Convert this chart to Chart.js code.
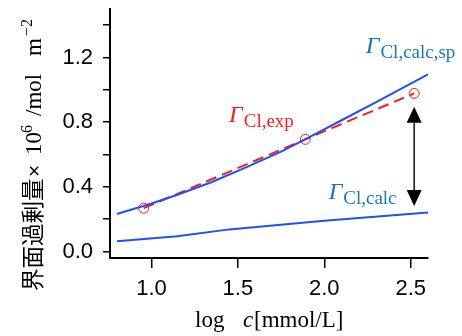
<!DOCTYPE html>
<html>
<head>
<meta charset="utf-8">
<script src="https://cdn.jsdelivr.net/npm/chart.js@4.4.1/dist/chart.umd.min.js"></script>
<style>
  html, body { margin: 0; padding: 0; background: #fff; }
  #wrap { width: 462px; height: 336px; position: relative; }
</style>
</head>
<body>
<div id="wrap"><canvas id="grafico"></canvas></div>
<script>
// values (log c vs surface excess)
const xCalcSp = [0.80, 1.00, 1.15, 1.35, 1.55, 1.75, 1.90, 2.10, 2.30, 2.60];
const yCalcSp = [0.232, 0.297, 0.351, 0.430, 0.522, 0.618, 0.700, 0.812, 0.924, 1.095];
const xCalc = [0.80, 1.15, 1.45, 2.00, 2.60];
const yCalc = [0.064, 0.095, 0.137, 0.190, 0.242];
const xExp = [0.955, 1.89, 2.52];
const yExp = [0.268, 0.694, 0.978];

const xTickValues = [1.0, 1.5, 2.0, 2.5];
const xTickLabels = ['1.0', '1.5', '2.0', '2.5'];
const yTickValues = [0, 0.2, 0.4, 0.6, 0.8, 1.0, 1.2, 1.4];
const yTickLabels = ['0.0', '', '0.4', '', '0.8', '', '1.2', ''];

// double arrow between the curves at the last experimental point
const arrowX = [2.52, 2.52];
const arrowY = [0.895, 0.282];

const BLUE_LINE = '#1f50f0';
const BLUE_TEXT = '#1b75bc';
const RED = '#ff1a1a';
const SERIF = "'Liberation Serif', 'Times New Roman', serif";
const SANS = "'Liberation Sans', Arial, sans-serif";

const pts = (xs, ys) => xs.map((x, i) => ({ x: x, y: ys[i] }));

const curveLabels = [
    { sub: 'Cl,calc,sp', color: BLUE_TEXT, x: 2.24, y: 1.228 },
    { sub: 'Cl,exp', color: RED, x: 1.449, y: 0.802 },
    { sub: 'Cl,calc', color: BLUE_TEXT, x: 2.025, y: 0.327 }
];

const extras = {
    id: 'extras',
    afterDatasetsDraw(chart) {
        const ctx = chart.ctx;
        const sx = chart.scales.x, sy = chart.scales.y;

        // arrow
        const ax = sx.getPixelForValue(arrowX[0]);
        const yTop = sy.getPixelForValue(arrowY[0]);
        const yBot = sy.getPixelForValue(arrowY[1]);
        const head = 16, half = 7.5;
        ctx.save();
        ctx.strokeStyle = '#111';
        ctx.fillStyle = '#000';
        ctx.lineWidth = 1.5;
        ctx.beginPath();
        ctx.moveTo(ax, yTop + head);
        ctx.lineTo(ax, yBot - head);
        ctx.stroke();
        ctx.beginPath();
        ctx.moveTo(ax, yTop);
        ctx.lineTo(ax - half, yTop + head);
        ctx.lineTo(ax + half, yTop + head);
        ctx.closePath();
        ctx.fill();
        ctx.beginPath();
        ctx.moveTo(ax, yBot);
        ctx.lineTo(ax - half, yBot - head);
        ctx.lineTo(ax + half, yBot - head);
        ctx.closePath();
        ctx.fill();

        // curve labels
        ctx.textAlign = 'left';
        ctx.textBaseline = 'alphabetic';
        curveLabels.forEach(l => {
            const px = sx.getPixelForValue(l.x);
            const py = sy.getPixelForValue(l.y);
            ctx.fillStyle = l.color;
            ctx.font = 'italic 24px ' + SERIF;
            ctx.fillText('\u0393', px, py);
            const w = ctx.measureText('\u0393').width;
            ctx.font = '19px ' + SERIF;
            ctx.fillText(l.sub, px + w + 1, py + 5);
        });
        ctx.restore();
    },
    afterDraw(chart) {
        const ctx = chart.ctx;
        ctx.save();
        ctx.fillStyle = '#000';
        ctx.textAlign = 'left';
        ctx.textBaseline = 'alphabetic';

        // x title: log c[mmol/L]
        ctx.font = '23px ' + SERIF;
        ctx.fillText('log', 195, 327);
        ctx.font = 'italic 23px ' + SERIF;
        ctx.fillText('c', 243, 327);
        ctx.font = '23px ' + SERIF;
        ctx.fillText('[mmol/L]', 254, 327);

        // y title, rotated, drawn piece by piece
        ctx.translate(41, 0);
        ctx.rotate(-Math.PI / 2);
        const seg = (txt, font, startY, shift) => {
            ctx.font = font;
            ctx.fillText(txt, -startY, shift || 0);
        };
        seg('界面過剰量', "22.5px 'Noto Sans CJK JP'", 291);
        seg('\u00d7', '21px ' + SANS, 177);
        seg('10', '23px ' + SERIF, 155);
        seg('6', '16px ' + SERIF, 133, -9);
        seg('/mol', '23px ' + SERIF, 116);
        seg('m', '23px ' + SERIF, 56);
        seg('\u22122', '16px ' + SERIF, 36, -9);
        ctx.restore();
    }
};

const axisStyle = {
    grid: { drawOnChartArea: false, drawTicks: true, color: '#000', lineWidth: 1.5 },
    border: { display: true, color: '#000', width: 2 }
};

new Chart(document.getElementById('grafico'), {
    type: 'scatter',
    data: {
        datasets: [
            {
                data: pts(xCalcSp, yCalcSp),
                showLine: true,
                borderColor: BLUE_LINE,
                borderWidth: 2,
                pointRadius: 0,
                order: 0
            },
            {
                data: pts(xCalc, yCalc),
                showLine: true,
                borderColor: BLUE_LINE,
                borderWidth: 2,
                pointRadius: 0,
                order: 0
            },
            {
                data: pts(xExp, yExp),
                showLine: true,
                borderColor: RED,
                borderWidth: 2,
                borderDash: [11, 6],
                pointRadius: 5,
                pointBorderWidth: 1,
                pointBorderColor: RED,
                pointBackgroundColor: 'rgba(0,0,0,0)',
                order: 1
            }
        ]
    },
    options: {
        responsive: true,
        maintainAspectRatio: false,
        animation: false,
        layout: { padding: { left: 0, right: 34, top: 9, bottom: 0 } },
        plugins: { legend: { display: false }, tooltip: { enabled: false } },
        scales: {
            x: {
                type: 'linear',
                min: 0.76,
                max: 2.6,
                afterFit: s => { s.height = 78; s.paddingLeft = 0; s.paddingRight = 0; },
                afterBuildTicks: s => { s.ticks = xTickValues.map(v => ({ value: v })); },
                ticks: {
                    autoSkip: false,
                    maxRotation: 0,
                    padding: 8,
                    color: '#000',
                    font: { family: SANS, size: 22 },
                    callback: (v, i) => xTickLabels[i]
                },
                grid: Object.assign({}, axisStyle.grid, { tickLength: 10 }),
                border: axisStyle.border
            },
            y: {
                type: 'linear',
                min: -0.04,
                max: 1.5,
                afterFit: s => { s.width = 110; s.paddingTop = 0; s.paddingBottom = 0; },
                afterBuildTicks: s => { s.ticks = yTickValues.map(v => ({ value: v })); },
                ticks: {
                    autoSkip: false,
                    padding: 10,
                    color: '#000',
                    font: { family: SANS, size: 22 },
                    callback: (v, i) => yTickLabels[i]
                },
                grid: Object.assign({}, axisStyle.grid, { tickLength: 7 }),
                border: axisStyle.border
            }
        }
    },
    plugins: [extras]
});
</script>
</body>
</html>
